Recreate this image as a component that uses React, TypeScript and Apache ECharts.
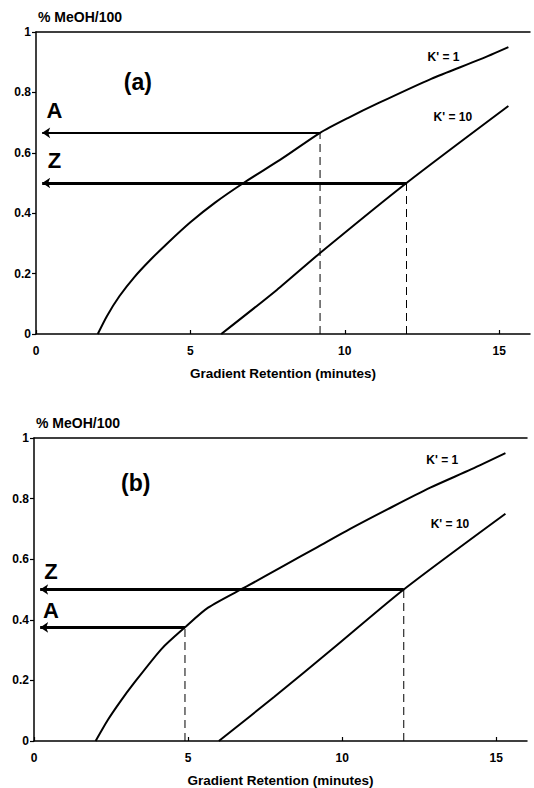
import React, { useEffect, useRef } from "react";
import * as echarts from "echarts";

// Panel (a)
const A_K1_X = [2, 2.3, 2.7, 3.2, 3.7, 4.25, 5, 5.8, 6.72, 8, 9.2, 10.1, 11.1, 12.8, 14.4, 15.3];
const A_K1_Y = [0, 0.06, 0.125, 0.19, 0.245, 0.3, 0.37, 0.435, 0.5, 0.583, 0.666, 0.715, 0.765, 0.845, 0.91, 0.95];
const A_K10_X = [6, 7.8, 9.2, 12, 15.3];
const A_K10_Y = [0, 0.146, 0.268, 0.5, 0.755];
const A_ARROW_A = { x: 9.2, y: 0.666, tipX: 0.2 };
const A_ARROW_Z = { x: 12, y: 0.5, tipX: 0.2 };

// Panel (b)
const B_K1_X = [2, 2.4, 2.8, 3.2, 4.15, 4.9, 5.65, 6.9, 8.1, 9.2, 10.26, 11.5, 12.86, 14.2, 15.3];
const B_K1_Y = [0, 0.07, 0.13, 0.185, 0.305, 0.375, 0.44, 0.51, 0.578, 0.64, 0.7, 0.766, 0.836, 0.897, 0.95];
const B_K10_X = [6, 7.8, 9.7, 12, 15.3];
const B_K10_Y = [0, 0.146, 0.305, 0.5, 0.75];
const B_ARROW_A = { x: 4.9, y: 0.375, tipX: 0.2 };
const B_ARROW_Z = { x: 12, y: 0.5, tipX: 0.2 };

// Text annotations (data coordinates)
const A_TEXTS = [
  { text: "(a)", x: 3.3, y: 0.835, size: 23, bold: true },
  { text: "A", x: 0.6, y: 0.74, size: 22, bold: true },
  { text: "Z", x: 0.6, y: 0.576, size: 22, bold: true },
  { text: "K' = 1", x: 13.2, y: 0.917, size: 12, bold: true },
  { text: "K' = 10", x: 13.5, y: 0.72, size: 12, bold: true },
];
const B_TEXTS = [
  { text: "(b)", x: 3.3, y: 0.85, size: 23, bold: true },
  { text: "Z", x: 0.55, y: 0.56, size: 22, bold: true },
  { text: "A", x: 0.55, y: 0.43, size: 22, bold: true },
  { text: "K' = 1", x: 13.25, y: 0.928, size: 12, bold: true },
  { text: "K' = 10", x: 13.5, y: 0.715, size: 12, bold: true },
];

const Y_NAME = "% MeOH/100";
const X_NAME = "Gradient Retention (minutes)";
const X_MIN = 0, X_MAX = 16, X_INTERVAL = 5;
const Y_MIN = 0, Y_MAX = 1, Y_INTERVAL = 0.2;

const FONT = "'Liberation Sans', Arial, Helvetica, sans-serif";
const INK = "#000";

const zip = (xs: number[], ys: number[]) => xs.map((x, i) => [x, ys[i]]);

function panelSeries(
  idx: number,
  k1: number[][],
  k10: number[][],
  arrows: { x: number; y: number; tipX: number; w: number }[],
  texts: { text: string; x: number; y: number; size: number; bold?: boolean }[]
) {
  const s: any[] = [];
  s.push({
    type: "line", xAxisIndex: idx * 2, yAxisIndex: idx, data: k1, smooth: 0.25,
    showSymbol: false, symbol: "none", lineStyle: { color: INK, width: 2 }, silent: true,
  });
  s.push({
    type: "line", xAxisIndex: idx * 2, yAxisIndex: idx, data: k10, smooth: 0.25,
    showSymbol: false, symbol: "none", lineStyle: { color: INK, width: 2 }, silent: true,
  });
  arrows.forEach((a) => {
    s.push({
      type: "line", xAxisIndex: idx * 2, yAxisIndex: idx,
      data: [[a.x, 0], [a.x, a.y]], showSymbol: false, symbol: "none",
      lineStyle: { color: INK, width: 1, type: [8, 5] }, silent: true,
    });
    s.push({
      type: "lines", coordinateSystem: "cartesian2d", xAxisIndex: idx * 2, yAxisIndex: idx,
      symbol: ["none", "arrow"], symbolSize: [0, 8], silent: true,
      lineStyle: { color: INK, width: a.w, opacity: 1 },
      data: [{ coords: [[a.x, a.y], [a.tipX, a.y]] }],
    });
  });
  s.push({
    type: "scatter", xAxisIndex: idx * 2, yAxisIndex: idx, symbolSize: 0, silent: true,
    itemStyle: { color: INK, opacity: 1 },
    data: texts.map((t) => ({
      value: [t.x, t.y], name: t.text,
      label: {
        show: true, position: "inside", formatter: "{b}", color: INK, opacity: 1,
        textBorderWidth: 0, fontFamily: FONT, fontSize: t.size,
        fontWeight: t.bold ? "bold" : "normal",
      },
    })),
  });
  return s;
}

export default function App() {
  const ref = useRef<HTMLDivElement>(null);
  useEffect(() => {
    document.body.style.margin = "0";
    if (!ref.current) return;
    const chart = echarts.init(ref.current, undefined, { renderer: "svg" });
    const grids = [
      { left: 36, top: 32, width: 494, height: 302 },
      { left: 34, top: 438, width: 493, height: 305 },
    ];
    const xAxes: any[] = [];
    const yAxes: any[] = [];
    grids.forEach((g, i) => {
      xAxes.push({
        type: "value", gridIndex: i, min: X_MIN, max: X_MAX, interval: X_INTERVAL,
        position: "bottom",
        axisLine: { show: true, onZero: false, lineStyle: { color: INK, width: 1.5 } },
        axisTick: { show: true, inside: true, length: 4, lineStyle: { color: INK, width: 1.2 } },
        axisLabel: {
          color: INK, fontFamily: FONT, fontSize: 12, fontWeight: "bold", margin: 11,
          showMaxLabel: false,
        },
        splitLine: { show: false },
        name: X_NAME, nameLocation: "middle", nameGap: 32,
        nameTextStyle: { color: INK, fontFamily: FONT, fontSize: 13.5, fontWeight: "bold" },
      });
      xAxes.push({
        type: "value", gridIndex: i, min: X_MIN, max: X_MAX, position: "top",
        axisLine: { show: true, onZero: false, lineStyle: { color: INK, width: 1.5 } },
        axisTick: { show: false }, axisLabel: { show: false }, splitLine: { show: false },
      });
      yAxes.push({
        type: "value", gridIndex: i, min: Y_MIN, max: Y_MAX, interval: Y_INTERVAL,
        axisLine: { show: true, onZero: false, lineStyle: { color: INK, width: 1.5 } },
        axisTick: { show: true, inside: false, length: 4, lineStyle: { color: INK, width: 1.2 } },
        axisLabel: { color: INK, fontFamily: FONT, fontSize: 12, fontWeight: "bold", margin: 5 },
        splitLine: { show: false },
        name: Y_NAME, nameLocation: "end", nameGap: 8,
        nameTextStyle: {
          color: INK, fontFamily: FONT, fontSize: 14, fontWeight: "bold",
          align: "left", verticalAlign: "bottom", padding: [0, 0, 0, 2],
        },
      });
    });
    const series = [
      ...panelSeries(
        0, zip(A_K1_X, A_K1_Y), zip(A_K10_X, A_K10_Y),
        [{ ...A_ARROW_A, w: 2 }, { ...A_ARROW_Z, w: 3 }], A_TEXTS
      ),
      ...panelSeries(
        1, zip(B_K1_X, B_K1_Y), zip(B_K10_X, B_K10_Y),
        [{ ...B_ARROW_A, w: 2.8 }, { ...B_ARROW_Z, w: 3 }], B_TEXTS
      ),
    ];
    chart.setOption({
      animation: false,
      backgroundColor: "#fff",
      grid: grids,
      xAxis: xAxes,
      yAxis: yAxes,
      series,
    });
    return () => chart.dispose();
  }, []);
  return <div ref={ref} style={{ width: 534, height: 788 }} />;
}
